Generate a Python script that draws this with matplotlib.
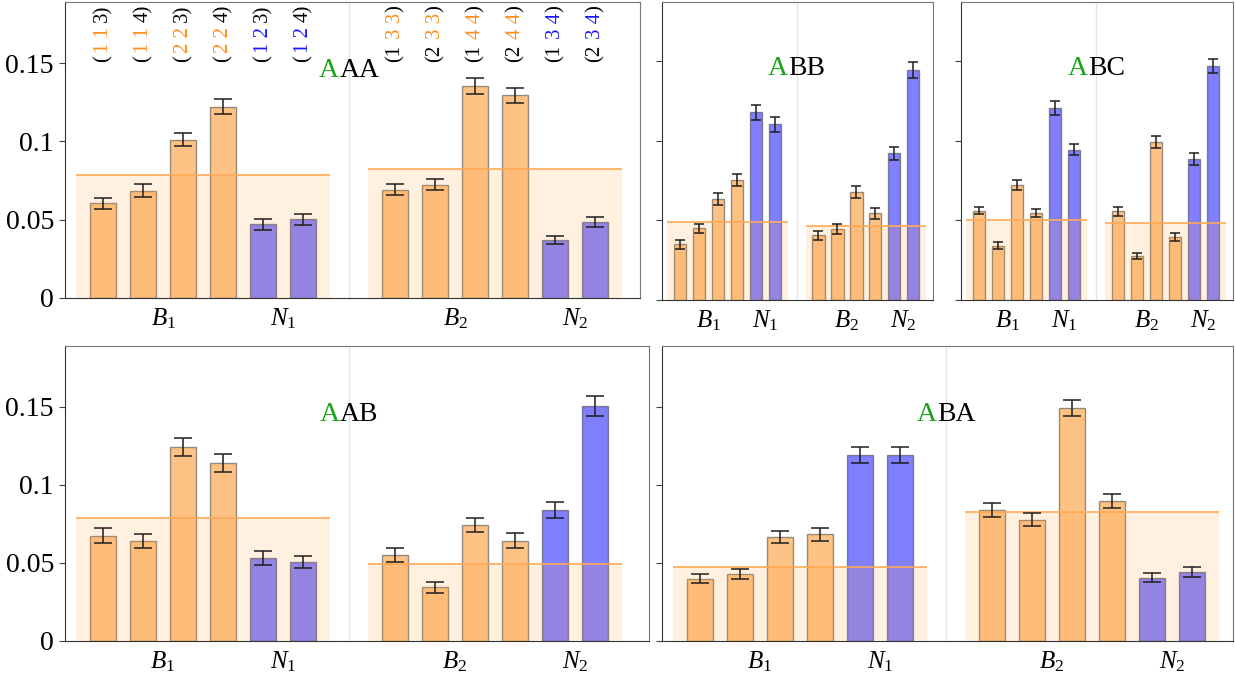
import numpy as np
import matplotlib
matplotlib.use('Agg')
import matplotlib.pyplot as plt
import matplotlib.transforms as mtransforms

plt.rcParams['font.family'] = ['Liberation Serif', 'DejaVu Serif']
plt.rcParams['mathtext.fontset'] = 'custom'
plt.rcParams['mathtext.rm'] = 'Liberation Serif'
plt.rcParams['mathtext.it'] = 'Liberation Serif:italic'

# each panel: 12 bars, 6 for group 1 then 6 for group 2
# in each group the first four bars are B, the last two are N
aaa_vals = [0.0605, 0.0686, 0.1012, 0.1222, 0.0470, 0.0502, 0.0692, 0.0724, 0.1352, 0.1295, 0.0373, 0.0486]
aaa_errs = [0.0036, 0.0039, 0.0044, 0.0046, 0.0033, 0.0033, 0.0035, 0.0037, 0.0050, 0.0048, 0.0026, 0.0030]
aaa_means = [0.0784, 0.0822]

abb_vals = [0.0349, 0.0450, 0.0634, 0.0753, 0.1178, 0.1103, 0.0406, 0.0444, 0.0678, 0.0544, 0.0920, 0.1441]
abb_errs = [0.0026, 0.0030, 0.0036, 0.0040, 0.0046, 0.0046, 0.0030, 0.0030, 0.0039, 0.0035, 0.0043, 0.0050]
abb_means = [0.0490, 0.0467]

abc_vals = [0.0561, 0.0341, 0.0720, 0.0546, 0.1205, 0.0944, 0.0556, 0.0276, 0.0992, 0.0393, 0.0885, 0.1469]
abc_errs = [0.0022, 0.0021, 0.0032, 0.0027, 0.0041, 0.0036, 0.0027, 0.0021, 0.0037, 0.0025, 0.0035, 0.0044]
abc_means = [0.0502, 0.0485]

aab_vals = [0.0674, 0.0640, 0.1245, 0.1138, 0.0532, 0.0506, 0.0551, 0.0343, 0.0743, 0.0643, 0.0840, 0.1504]
aab_errs = [0.0047, 0.0046, 0.0058, 0.0057, 0.0043, 0.0040, 0.0043, 0.0034, 0.0047, 0.0047, 0.0050, 0.0064]
aab_means = [0.0785, 0.0494]

aba_vals = [0.0400, 0.0428, 0.0668, 0.0683, 0.1191, 0.1191, 0.0838, 0.0777, 0.1494, 0.0898, 0.0406, 0.0445]
aba_errs = [0.0030, 0.0032, 0.0038, 0.0040, 0.0049, 0.0049, 0.0043, 0.0043, 0.0053, 0.0043, 0.0030, 0.0032]
aba_means = [0.0477, 0.0826]

kinds = ['B', 'B', 'B', 'B', 'N', 'N']
group_ticks = [r'$B_1$', r'$N_1$', r'$B_2$', r'$N_2$']
yticks = [0, 0.05, 0.1, 0.15]
ytick_labels = ['0', '0.05', '0.1', '0.15']

# index triples written above the bars of the first panel
top_idx_1 = ['1 1 3', '1 1 4', '2 2 3', '2 2 4', '1 2 3', '1 2 4']
top_idx_2 = ['1 3 3', '2 3 3', '1 4 4', '2 4 4', '1 3 4', '2 3 4']

ORANGE = '#FFC285'
BLUE = '#8080FF'
GREEN = '#1AA31A'
LBL_OR = '#FF8C1A'
LBL_BL = '#1A1AFF'

W, H = 1235, 684
fig = plt.figure(figsize=(W / 100, H / 100), dpi=100)


def px_axes(left, top, right, bottom):
	# axes placed by pixel box of the reference
	return fig.add_axes([left / W, 1 - bottom / H, (right - left) / W, (bottom - top) / H])


def color_text(ax, x, y, parts, size, vertical=False, center=False):
	# draws pieces of text of different colours one after another
	# parts: (text, colour, gap before in em)
	rend = fig.canvas.get_renderer()
	em = size * fig.dpi / 72.
	texts, offs = [], []
	pos = 0.
	for s, c, gap in parts:
		pos += gap * em
		t = ax.text(x, y, s, color=c, fontsize=size, rotation=90 if vertical else 0,
					rotation_mode='anchor', ha='left', va='center', clip_on=False, zorder=8)
		bb = t.get_window_extent(rend)
		texts.append(t)
		offs.append(pos)
		pos += bb.height if vertical else bb.width
	shift = pos / 2 if center else 0
	for t, o in zip(texts, offs):
		d = o - shift
		t.set_transform(mtransforms.offset_copy(ax.transData, fig=fig, x=0 if vertical else d,
												y=d if vertical else 0, units='dots'))


pos1 = np.arange(6) + 1.0
pos2 = np.arange(6) + 8.3
sep = (pos1[-1] + pos2[0]) / 2


def draw_panel(ax, vals, errs, means, title, xmax, ymax, cap, show_y):
	colors = [ORANGE if k == 'B' else BLUE for k in kinds] * 2
	xs = np.concatenate([pos1, pos2])
	ax.axvline(sep, color='#e4e4e4', lw=1, zorder=0)
	ax.bar(xs, vals, width=0.66, color=colors, edgecolor=(0.25, 0.25, 0.25, 0.55), linewidth=1, zorder=2)
	# shaded band up to the group mean, drawn over the bars
	for g, m in zip([pos1, pos2], means):
		span = g[-1] - g[0] + 1.35
		ax.bar((g[0] + g[-1]) / 2, m, width=span, color='#FFA030', alpha=0.15, linewidth=0, zorder=4)
		ax.hlines(m, g[0] - 0.675, g[-1] + 0.675, color='#FFAA55', lw=1.2, zorder=5)
	ax.errorbar(xs, vals, yerr=errs, fmt='none', ecolor='#1e1e1e', elinewidth=1.1,
				capsize=cap, capthick=1.1, zorder=6)

	ax.set_xlim(0.05, xmax)
	ax.set_ylim(0, ymax)
	ax.set_xticks([pos1[:4].mean(), pos1[4:].mean(), pos2[:4].mean(), pos2[4:].mean()])
	ax.set_xticklabels(group_ticks, fontsize=18)
	ax.tick_params(axis='x', length=0, pad=6)
	ax.set_yticks(yticks)
	if show_y:
		ax.set_yticklabels(ytick_labels, fontsize=20)
	else:
		ax.set_yticklabels([])
	ax.tick_params(axis='y', direction='out', length=4, width=0.8, color='#444444', pad=4)
	for s in ['left', 'bottom']:
		ax.spines[s].set_color('#333333')
	for s in ['top', 'right']:
		ax.spines[s].set_color('#777777')

	color_text(ax, sep, 0.145, [(title[0], GREEN, 0), (title[1:], 'black', 0.02)], 20, center=True)


ax1 = px_axes(65, 2, 640, 298)
ax2 = px_axes(662, 2, 933, 300)
ax3 = px_axes(961, 2, 1233, 300)
ax4 = px_axes(65, 346, 649, 641)
ax5 = px_axes(662, 346, 1233, 641)

draw_panel(ax1, aaa_vals, aaa_errs, aaa_means, 'AAA', 14.42, 0.189, 6.5, True)
draw_panel(ax2, abb_vals, abb_errs, abb_means, 'ABB', 14.35, 0.187, 3.6, False)
draw_panel(ax3, abc_vals, abc_errs, abc_means, 'ABC', 14.35, 0.187, 3.6, False)
draw_panel(ax4, aab_vals, aab_errs, aab_means, 'AAB', 14.65, 0.189, 6.5, True)
draw_panel(ax5, aba_vals, aba_errs, aba_means, 'ABA', 14.33, 0.189, 6.5, False)

# rotated index labels above the bars of the AAA panel
for i, s in enumerate(top_idx_1):
	c = LBL_OR if kinds[i] == 'B' else LBL_BL
	color_text(ax1, pos1[i], 0.151, [('(', 'black', 0), (s[:3], c, 0.06), (s[4:] + ')', 'black', 0.25)],
			   15, vertical=True)
for i, s in enumerate(top_idx_2):
	c = LBL_OR if kinds[i] == 'B' else LBL_BL
	color_text(ax1, pos2[i], 0.151, [('(' + s[0], 'black', 0), (s[2:], c, 0.25), (')', 'black', 0.06)],
			   15, vertical=True)

fig.savefig('out.png', dpi=100)
